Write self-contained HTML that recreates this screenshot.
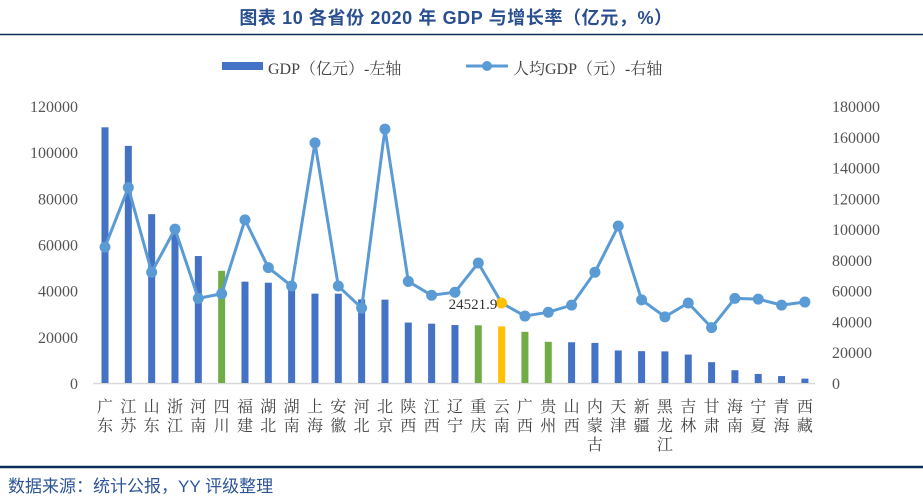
<!DOCTYPE html>
<html><head><meta charset="utf-8"><style>
body{margin:0;width:923px;height:501px;background:#fff;overflow:hidden}
svg{display:block}
</style></head><body>
<svg id="s" width="923" height="501" xmlns="http://www.w3.org/2000/svg">
<text x="456" y="24" text-anchor="middle" font-family="Liberation Sans,'Noto Sans CJK SC',sans-serif" font-weight="bold" font-size="18" letter-spacing="0.6" fill="#2a4f8f">图表 10  各省份 2020 年 GDP 与增长率（亿元，%）</text>
<line x1="0" y1="34.5" x2="923" y2="34.5" stroke="#0e2d57" stroke-width="1.5"/>
<rect x="222" y="62" width="41" height="8" fill="#4472c4"/>
<text x="268" y="74" font-family="'Liberation Serif','Noto Serif CJK SC',serif" font-size="16" fill="#444">GDP（亿元）-左轴</text>
<line x1="466" y1="66" x2="508" y2="66" stroke="#5b9bd5" stroke-width="3"/>
<circle cx="487" cy="66" r="5" fill="#5b9bd5"/>
<text x="513" y="74" font-family="'Liberation Serif','Noto Serif CJK SC',serif" font-size="16" fill="#444">人均GDP（元）-右轴</text>
<line x1="93" y1="383.5" x2="815" y2="383.5" stroke="#d9d9d9" stroke-width="1.5"/>
<line x1="0" y1="467" x2="923" y2="467" stroke="#0e2d57" stroke-width="2.5"/>
<text x="8" y="492" font-family="Liberation Sans,'Noto Sans CJK SC',sans-serif" font-size="17" fill="#2e5597">数据来源：统计公报，YY 评级整理</text>
<g id="g"></g>
</svg>
<script>
var names=["广东","江苏","山东","浙江","河南","四川","福建","湖北","湖南","上海","安徽","河北","北京","陕西","江西","辽宁","重庆","云南","广西","贵州","山西","内蒙古","天津","新疆","黑龙江","吉林","甘肃","海南","宁夏","青海","西藏"];
var gdp=[110760,102719,73129,64613,54997,48599,43904,43443,41781,38701,38681,36207,36103,26182,25692,25115,25003,24522,22157,17827,17652,17360,14084,13798,13699,12311,9017,5532,3921,3006,1903];
var per=[88300,127000,72000,100000,55000,58000,106000,75000,63000,156000,63000,48700,165000,66000,57000,59000,78000,52000,43500,46000,50600,72000,102000,54000,43000,52000,36000,55000,54500,50600,52600];
var col={5:"#70ad47",16:"#70ad47",18:"#70ad47",19:"#70ad47",17:"#ffc000"};
var h="",y0=383,x0=105,dx=23.33;
var ser="font-family=\"'Liberation Serif','Noto Serif CJK SC',serif\"";
for(var i=0;i<=6;i++){var v=i*20000,y=y0-v/20000*46.17;h+='<text x="78" y="'+(y+6)+'" text-anchor="end" '+ser+' font-size="16" fill="#555">'+v+'</text>';}
for(var i=0;i<=9;i++){var v=i*20000,y=y0-v/20000*30.78;h+='<text x="832" y="'+(y+6)+'" '+ser+' font-size="16" fill="#555">'+v+'</text>';}
var pts=[];
for(var i=0;i<31;i++){var x=x0+i*dx,bh=gdp[i]/20000*46.17;
h+='<rect x="'+(x-3.5)+'" y="'+(y0-bh)+'" width="7" height="'+bh+'" fill="'+(col[i]||"#4472c4")+'"/>';
pts.push(x+","+(y0-per[i]/20000*30.78));
var n=names[i];for(var k=0;k<n.length;k++)h+='<text x="'+x+'" y="'+(412+k*19)+'" text-anchor="middle" '+ser+' font-size="16" fill="#444">'+n[k]+'</text>';}
h+='<polyline points="'+pts.join(" ")+'" fill="none" stroke="#5b9bd5" stroke-width="3" stroke-linejoin="round"/>';
for(var i=0;i<31;i++){var p=pts[i].split(",");h+='<circle cx="'+p[0]+'" cy="'+p[1]+'" r="5.5" fill="'+(i==17?"#ffc000":"#5b9bd5")+'"/>';}
h+='<text x="473" y="309" text-anchor="middle" '+ser+' font-size="15" fill="#333">24521.9</text>';
document.getElementById("g").innerHTML=h;
</script>
</body></html>
